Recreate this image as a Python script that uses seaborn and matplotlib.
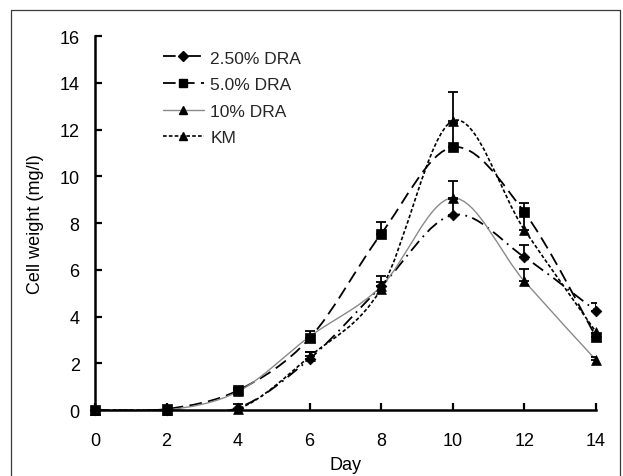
import numpy as np
import pandas as pd
import matplotlib
matplotlib.use("Agg")
import matplotlib.pyplot as plt
from matplotlib.path import Path
from matplotlib.patches import PathPatch
from matplotlib.lines import Line2D
import seaborn as sns

# Cell weight over time for each medium
days = [0, 2, 4, 6, 8, 10, 12, 14]
dra_250 = [0.0, 0.0, 0.1, 2.2, 5.3, 8.35, 6.55, 4.25]
dra_50 = [0.0, 0.05, 0.85, 3.08, 7.55, 11.25, 8.47, 3.15]
dra_10 = [0.0, 0.0, 0.8, 3.15, 5.3, 9.08, 5.52, 2.15]
km = [0.0, 0.0, 0.05, 2.3, 5.2, 12.38, 7.72, 3.35]

# Standard deviations (drawn as upper bars)
err_250 = [0, 0, 0, 0.3, 0.2, 0.68, 0.5, 0.32]
err_50 = [0, 0, 0.1, 0.3, 0.5, 1.02, 0.38, 0.15]
err_10 = [0, 0, 0, 0, 0.45, 0.74, 0.5, 0.12]
err_km = [0, 0, 0.22, 0.2, 0, 1.25, 0.7, 0]

series_names = ["2.50% DRA", "5.0% DRA", "10% DRA", "KM"]
series_values = [dra_250, dra_50, dra_10, km]
series_errors = [err_250, err_50, err_10, err_km]

sns.set_theme(style="white")
plt.rcParams["font.family"] = ["Liberation Sans", "DejaVu Sans"]

styles = {
    "2.50% DRA": dict(color="black", ls=(0, (7, 3, 1, 3)), lw=1.3, marker="D", ms=5.5),
    "5.0% DRA": dict(color="black", ls=(0, (7, 3.5)), lw=1.3, marker="s", ms=7),
    "10% DRA": dict(color="#8a8a8a", ls="-", lw=1.0, marker="^", ms=7),
    "KM": dict(color="black", ls=(0, (2.2, 1.3)), lw=1.2, marker="^", ms=7),
}

fig = plt.figure(figsize=(6.23, 4.77), dpi=100)
ax = fig.add_axes([0.1525, 0.138, 0.804, 0.784])


def smooth_path(x, y, k=1.0 / 6.0):
    """Bezier path through the points (cardinal spline, as in spreadsheet smoothed lines)."""
    pts = np.column_stack([x, y]).astype(float)
    n = len(pts)
    verts = [pts[0]]
    codes = [Path.MOVETO]
    for i in range(n - 1):
        p0 = pts[i - 1] if i > 0 else pts[i]
        p1 = pts[i]
        p2 = pts[i + 1]
        p3 = pts[i + 2] if i + 2 < n else pts[i + 1]
        c1 = p1 + (p2 - p0) * k
        c2 = p2 - (p3 - p1) * k
        verts += [c1, c2, p2]
        codes += [Path.CURVE4] * 3
    return Path(verts, codes)


frames = []
for name, vals, errs in zip(series_names, series_values, series_errors):
    st = styles[name]
    ax.add_patch(PathPatch(smooth_path(days, vals), fill=False, edgecolor=st["color"],
                           linestyle=st["ls"], linewidth=st["lw"], zorder=2))
    e = np.array(errs, dtype=float)
    mask = e > 0
    ax.errorbar(np.array(days)[mask], np.array(vals)[mask],
                yerr=[np.zeros(mask.sum()), e[mask]], fmt="none",
                ecolor="black", elinewidth=1.3, capsize=3.5, capthick=1.3, zorder=3)
    frames.append(pd.DataFrame({"Day": days, "Weight": vals, "Series": name}))

data = pd.concat(frames, ignore_index=True)
marker_map = {n: styles[n]["marker"] for n in series_names}
size_map = {"2.50% DRA": 30, "5.0% DRA": 55, "10% DRA": 50, "KM": 50}
for name in series_names:
    sub = data[data["Series"] == name]
    sns.scatterplot(data=sub, x="Day", y="Weight", marker=marker_map[name],
                    s=size_map[name], color="black", edgecolor="black",
                    linewidth=0.5, ax=ax, zorder=4, legend=False, clip_on=False)

ax.set_xlim(0, 14)
ax.set_ylim(0, 16)
ax.set_xticks(range(0, 15, 2))
ax.set_yticks(range(0, 17, 2))

for side in ["top", "right"]:
    ax.spines[side].set_visible(False)
for side in ["left", "bottom"]:
    ax.spines[side].set_color("black")
    ax.spines[side].set_linewidth(1.8)

ax.tick_params(axis="both", direction="in", length=5, width=1.6, color="black",
               labelsize=13, labelcolor="black")
ax.tick_params(axis="y", pad=11)
ax.tick_params(axis="x", pad=16)
ax.tick_params(left=True, bottom=True)

ax.set_xlabel("Day", fontsize=13, color="black", labelpad=5)
ax.set_ylabel("Cell weight (mg/l)", fontsize=13, color="black", labelpad=11)

handles = []
for name in series_names:
    st = styles[name]
    handles.append(Line2D([], [], color=st["color"], linestyle=st["ls"], linewidth=st["lw"],
                          marker=st["marker"], markersize=st["ms"] * 0.85,
                          markerfacecolor="black", markeredgecolor="black"))
ax.legend(handles, series_names, loc="upper left", bbox_to_anchor=(0.135, 0.962),
          frameon=False, fontsize=12.5, handlelength=2.4, handletextpad=0.35,
          labelspacing=0.66, borderaxespad=0, borderpad=0)

# outer border of the figure panel
for xs, ys in [([11 / 623, 11 / 623], [0, 1 - 11 / 477]),
               ([11 / 623, 620 / 623], [1 - 11 / 477, 1 - 11 / 477]),
               ([620 / 623, 620 / 623], [1 - 11 / 477, 0])]:
    fig.add_artist(Line2D(xs, ys, color="#3a3a3a", linewidth=0.9, transform=fig.transFigure))

fig.savefig("out.png", dpi=100, facecolor="white")
